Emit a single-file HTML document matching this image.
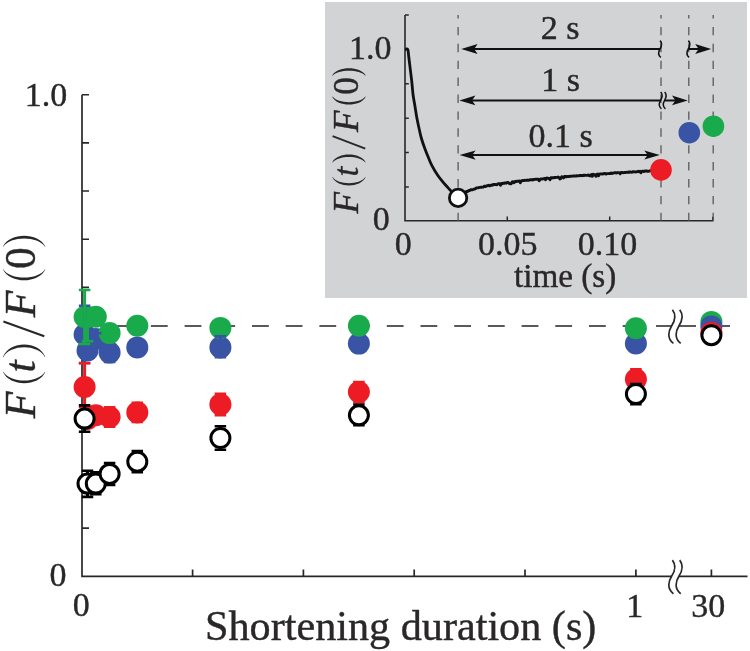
<!DOCTYPE html>
<html><head><meta charset="utf-8"><style>
html,body{margin:0;padding:0;background:#fff;}
svg{display:block;will-change:transform;}
</style></head><body>
<svg width="750" height="651" viewBox="0 0 750 651">
<rect width="750" height="651" fill="#fff"/>
<path d="M82,94.7V576.3H671.6M679,576.3H747.5" fill="none" stroke="#2A2728" stroke-width="1.7"/>
<path d="M82,94.7H89M82,142.86H89M82,191.02H89M82,239.18H89M82,287.34H89M82,335.5H89M82,383.66H89M82,431.82H89M82,479.98H89M82,528.14H89" stroke="#2A2728" stroke-width="1.6"/>
<path d="M192.6,576.3V569.4M303.4,576.3V569.4M414.2,576.3V569.4M525,576.3V569.4M635.9,576.3V569.4M711.4,576.3V569.4" stroke="#2A2728" stroke-width="1.7"/>
<path d="M672.4,560.1C676.8,565.7 674.8,571.3 671.6,576.3S666.8,588.7 673.4,593.7M679.7,560.1C684.1,565.7 682.1,571.3 678.9,576.3S674.1,588.7 680.7,593.7" fill="none" stroke="#2A2728" stroke-width="1.7"/>
<path d="M83.5,326H646" stroke="#58595B" stroke-width="2.1" stroke-dasharray="16.8 16.9"/>
<path d="M656,326H671.6M679,326H696M722,326H730" stroke="#58595B" stroke-width="2.1"/>
<path d="M672.4,309.8C676.8,315.4 674.8,321 671.6,326S666.8,338.4 673.4,343.4M679.7,309.8C684.1,315.4 682.1,321 678.9,326S674.1,338.4 680.7,343.4" fill="none" stroke="#2A2728" stroke-width="1.7"/>
<circle cx="84.6" cy="334.5" r="11" fill="#3953A5"/>
<circle cx="87.5" cy="350.5" r="11" fill="#3953A5"/>
<circle cx="95.8" cy="339" r="11" fill="#3953A5"/>
<circle cx="109.6" cy="352.6" r="11" fill="#3953A5"/>
<circle cx="137.3" cy="347.4" r="11" fill="#3953A5"/>
<circle cx="220.4" cy="347.4" r="11" fill="#3953A5"/>
<circle cx="358.9" cy="343.6" r="11" fill="#3953A5"/>
<circle cx="635.9" cy="343.5" r="11" fill="#3953A5"/>
<circle cx="84.6" cy="317" r="11" fill="#19AA4B"/>
<circle cx="87.5" cy="317" r="11" fill="#19AA4B"/>
<circle cx="95.8" cy="316.8" r="11" fill="#19AA4B"/>
<circle cx="109.6" cy="333.1" r="11" fill="#19AA4B"/>
<circle cx="137.3" cy="325.8" r="11" fill="#19AA4B"/>
<circle cx="220.4" cy="327.9" r="11" fill="#19AA4B"/>
<circle cx="358.9" cy="325.7" r="11" fill="#19AA4B"/>
<circle cx="635.9" cy="328.3" r="11" fill="#19AA4B"/>
<path d="M84.6,305.8V363" stroke="#3953A5" stroke-width="3"/><path d="M78.85,305.8H90.35M78.85,363H90.35" stroke="#3953A5" stroke-width="2.6"/>
<path d="M95.8,333.2V345" stroke="#3953A5" stroke-width="3"/><path d="M90.05,333.2H101.55M90.05,345H101.55" stroke="#3953A5" stroke-width="2.6"/>
<path d="M109.6,352V362" stroke="#3953A5" stroke-width="3"/><path d="M103.85,352H115.35M103.85,362H115.35" stroke="#3953A5" stroke-width="2.6"/>
<path d="M220.4,336.4V357.2" stroke="#3953A5" stroke-width="3"/><path d="M214.65,336.4H226.15M214.65,357.2H226.15" stroke="#3953A5" stroke-width="2.6"/>
<path d="M84.6,290V344" stroke="#19AA4B" stroke-width="3"/><path d="M78.85,290H90.35M78.85,344H90.35" stroke="#19AA4B" stroke-width="2.6"/>
<path d="M87.5,322V341.3" stroke="#19AA4B" stroke-width="3"/><path d="M81.75,322H93.25M81.75,341.3H93.25" stroke="#19AA4B" stroke-width="2.6"/>
<path d="M84.6,363.2V407" stroke="#ED1C24" stroke-width="3"/><path d="M78.85,363.2H90.35M78.85,407H90.35" stroke="#ED1C24" stroke-width="2.6"/>
<path d="M109.6,407.4V426.6" stroke="#ED1C24" stroke-width="3"/><path d="M103.85,407.4H115.35M103.85,426.6H115.35" stroke="#ED1C24" stroke-width="2.6"/>
<path d="M137.3,402.7V422" stroke="#ED1C24" stroke-width="3"/><path d="M131.55,402.7H143.05M131.55,422H143.05" stroke="#ED1C24" stroke-width="2.6"/>
<path d="M220.4,393.7V415.1" stroke="#ED1C24" stroke-width="3"/><path d="M214.65,393.7H226.15M214.65,415.1H226.15" stroke="#ED1C24" stroke-width="2.6"/>
<path d="M358.9,382.1V402" stroke="#ED1C24" stroke-width="3"/><path d="M353.15,382.1H364.65M353.15,402H364.65" stroke="#ED1C24" stroke-width="2.6"/>
<path d="M635.9,369.4V389" stroke="#ED1C24" stroke-width="3"/><path d="M630.15,369.4H641.65M630.15,389H641.65" stroke="#ED1C24" stroke-width="2.6"/>
<circle cx="84.6" cy="387" r="11" fill="#ED1C24"/>
<circle cx="87.5" cy="419" r="11" fill="#ED1C24"/>
<circle cx="95.8" cy="415.2" r="11" fill="#ED1C24"/>
<circle cx="109.6" cy="417" r="11" fill="#ED1C24"/>
<circle cx="137.3" cy="412.4" r="11" fill="#ED1C24"/>
<circle cx="220.4" cy="404.4" r="11" fill="#ED1C24"/>
<circle cx="358.9" cy="392" r="11" fill="#ED1C24"/>
<circle cx="635.9" cy="379.2" r="11" fill="#ED1C24"/>
<path d="M84.6,405.4V431.7" stroke="#000" stroke-width="3"/><path d="M78.85,405.4H90.35M78.85,431.7H90.35" stroke="#000" stroke-width="2.6"/>
<path d="M87.5,470.7V496.9" stroke="#000" stroke-width="3"/><path d="M81.75,470.7H93.25M81.75,496.9H93.25" stroke="#000" stroke-width="2.6"/>
<path d="M95.8,472.4V494.3" stroke="#000" stroke-width="3"/><path d="M90.05,472.4H101.55M90.05,494.3H101.55" stroke="#000" stroke-width="2.6"/>
<path d="M109.6,463V485" stroke="#000" stroke-width="3"/><path d="M103.85,463H115.35M103.85,485H115.35" stroke="#000" stroke-width="2.6"/>
<path d="M137.3,451V472.3" stroke="#000" stroke-width="3"/><path d="M131.55,451H143.05M131.55,472.3H143.05" stroke="#000" stroke-width="2.6"/>
<path d="M220.4,426.2V449.8" stroke="#000" stroke-width="3"/><path d="M214.65,426.2H226.15M214.65,449.8H226.15" stroke="#000" stroke-width="2.6"/>
<path d="M358.9,404.5V425.3" stroke="#000" stroke-width="3"/><path d="M353.15,404.5H364.65M353.15,425.3H364.65" stroke="#000" stroke-width="2.6"/>
<path d="M635.9,384V404.3" stroke="#000" stroke-width="3"/><path d="M630.15,384H641.65M630.15,404.3H641.65" stroke="#000" stroke-width="2.6"/>
<circle cx="84.6" cy="418.6" r="9.5" fill="#fff" stroke="#000" stroke-width="3"/>
<circle cx="87.5" cy="483.6" r="9.5" fill="#fff" stroke="#000" stroke-width="3"/>
<circle cx="95.8" cy="483.6" r="9.5" fill="#fff" stroke="#000" stroke-width="3"/>
<circle cx="109.6" cy="473.9" r="9.5" fill="#fff" stroke="#000" stroke-width="3"/>
<circle cx="137.3" cy="461.7" r="9.5" fill="#fff" stroke="#000" stroke-width="3"/>
<circle cx="220.4" cy="438" r="9.5" fill="#fff" stroke="#000" stroke-width="3"/>
<circle cx="358.9" cy="415.3" r="9.5" fill="#fff" stroke="#000" stroke-width="3"/>
<circle cx="635.9" cy="394" r="9.5" fill="#fff" stroke="#000" stroke-width="3"/>
<circle cx="711.4" cy="321.9" r="11" fill="#19AA4B"/>
<circle cx="711.4" cy="326.4" r="11" fill="#3953A5"/>
<circle cx="711.4" cy="332.9" r="11" fill="#ED1C24"/>
<circle cx="711.4" cy="335.2" r="9.5" fill="#fff" stroke="#000" stroke-width="3"/>
<text x="24.8" y="106.3" font-size="34" font-family="Liberation Serif" fill="#2A2728" stroke="#2A2728" stroke-width="0.4">1.0</text>
<text x="49.4" y="586" font-size="34" font-family="Liberation Serif" fill="#2A2728" stroke="#2A2728" stroke-width="0.4">0</text>
<text x="72.7" y="616.3" font-size="34" font-family="Liberation Serif" fill="#2A2728" stroke="#2A2728" stroke-width="0.4">0</text>
<text x="626.2" y="616.6" font-size="34" font-family="Liberation Serif" fill="#2A2728" stroke="#2A2728" stroke-width="0.4">1</text>
<text x="691.2" y="616.6" font-size="34" font-family="Liberation Serif" fill="#2A2728" stroke="#2A2728" stroke-width="0.4">30</text>
<text x="205" y="640.3" font-size="42.2" font-family="Liberation Serif" fill="#2A2728" stroke="#2A2728" stroke-width="0.4">Shortening duration (s)</text>
<text transform="translate(35.2,418.3) rotate(-90)" font-size="43.5" font-family="Liberation Serif" fill="#2A2728" stroke="#2A2728" stroke-width="0.4"><tspan font-style="italic" x="0">F</tspan><tspan x="45.9" font-style="italic">t</tspan><tspan x="101" font-style="italic">F</tspan><tspan x="149.3">0</tspan></text>
<path d="M44.3,336.2L3.4,321.6" stroke="#2A2728" stroke-width="2.1"/>
<path d="M3,372C9.77,386.93 38.53,386.93 45.3,372L45,371.65C38.23,383.38 10.07,383.38 3.3,371.65Z" fill="#2A2728"/>
<path d="M3,356.9C9.77,340.5 38.53,340.5 45.3,356.9L45,357.25C38.23,344.05 10.07,344.05 3.3,357.25Z" fill="#2A2728"/>
<path d="M3,269.5C9.77,283.9 38.53,283.9 45.3,269.5L45,269.15C38.23,280.35 10.07,280.35 3.3,269.15Z" fill="#2A2728"/>
<path d="M3,246.5C9.77,232.23 38.53,232.23 45.3,246.5L45,246.85C38.23,235.78 10.07,235.78 3.3,246.85Z" fill="#2A2728"/>
<rect x="325" y="2" width="422" height="296" fill="#D1D3D4"/>
<path d="M405,15V220.8H712.8V216.8" fill="none" stroke="#2A2728" stroke-width="1.6"/>
<path d="M405,15H408.8M405,49.38H408.8M405,83.76H408.8M405,118.14H408.8M405,152.52H408.8M405,186.9H408.8" stroke="#2A2728" stroke-width="1.5"/>
<path d="M507.3,220.8V216.6M609.7,220.8V216.6" stroke="#2A2728" stroke-width="1.5"/>
<path d="M458.1,15V220.8M661,15V220.8M688.8,15V220.8M713.2,15V220.8" stroke="#58595B" stroke-width="1.3" stroke-dasharray="8.4 8.5" stroke-dashoffset="5"/>
<path d="M405.1,49.2C405.55,49.27 407.2,48.42 407.8,49.6C408.4,50.78 408.3,53.13 408.7,56.3C409.1,59.47 409.7,64.5 410.2,68.6C410.7,72.7 411.22,76.5 411.7,80.9C412.18,85.3 412.57,90.85 413.1,95C413.63,99.15 414.32,102.22 414.9,105.8C415.48,109.38 415.95,112.92 416.6,116.5C417.25,120.08 418.02,123.72 418.8,127.3C419.58,130.88 420.28,134.42 421.3,138C422.32,141.58 423.58,145.22 424.9,148.8C426.22,152.38 427.98,156.62 429.2,159.5C430.42,162.38 430.78,163.47 432.2,166.1C433.62,168.73 435.97,172.72 437.7,175.3C439.43,177.88 440.93,179.58 442.6,181.6C444.27,183.62 446.05,185.58 447.7,187.4C449.35,189.22 451.12,190.98 452.5,192.5C453.88,194.02 455.42,195.83 456,196.5" fill="none" stroke="#111" stroke-width="2.8" stroke-linejoin="round"/>
<path d="M460,195.32 L460.9,194.87 L461.8,195.33 L462.7,194.12 L463.6,193.16 L464.5,192.79 L465.4,192.26 L466.3,191.49 L467.2,191.58 L468.1,191.18 L469,190.39 L469.9,190.45 L470.8,189.74 L471.7,189.73 L472.6,189.7 L473.5,189.42 L474.4,189.02 L475.3,188.83 L476.2,188.03 L477.1,187.91 L478,187.85 L478.9,187.54 L479.8,187.38 L480.7,187.31 L481.6,187.32 L482.5,187.13 L483.4,186.96 L484.3,186.16 L485.2,186.57 L486.1,186.14 L487,185.74 L487.9,185.84 L488.8,185.33 L489.7,185.82 L490.6,185.54 L491.5,184.93 L492.4,185.21 L493.3,184.55 L494.2,184.4 L495.1,184.44 L496,184.75 L496.9,184.61 L497.8,183.81 L498.7,183.62 L499.6,183.75 L500.5,185.28 L501.4,183.41 L502.3,183.68 L503.2,183.24 L504.1,183.24 L505,183.04 L505.9,183.18 L506.8,182.68 L507.7,182.41 L508.6,182.8 L509.5,183.66 L510.4,183.79 L511.3,183.7 L512.2,181.9 L513.1,181.69 L514,182.71 L514.9,181.7 L515.8,181.31 L516.7,181.45 L517.6,181.2 L518.5,181.11 L519.4,180.96 L520.3,182.68 L521.2,181.08 L522.1,180.63 L523,180.54 L523.9,180.59 L524.8,180.26 L525.7,180.33 L526.6,180.31 L527.5,180.03 L528.4,180.27 L529.3,180.03 L530.2,179.71 L531.1,179.66 L532,180.02 L532.9,179.54 L533.8,179.7 L534.7,179.4 L535.6,179.26 L536.5,179.16 L537.4,179.18 L538.3,179.09 L539.2,180.76 L540.1,179.25 L541,178.85 L541.9,179.11 L542.8,178.9 L543.7,178.76 L544.6,178.41 L545.5,179.79 L546.4,178.24 L547.3,177.98 L548.2,178.35 L549.1,178.41 L550,179.79 L550.9,177.73 L551.8,177.99 L552.7,177.73 L553.6,177.78 L554.5,177.45 L555.4,177.52 L556.3,177.35 L557.2,177.39 L558.1,177.05 L559,177.49 L559.9,178.89 L560.8,178.42 L561.7,176.81 L562.6,176.85 L563.5,177.9 L564.4,176.51 L565.3,176.4 L566.2,176.88 L567.1,176.57 L568,176.37 L568.9,176.53 L569.8,176.27 L570.7,176.18 L571.6,176.27 L572.5,176.08 L573.4,175.87 L574.3,176.1 L575.2,175.87 L576.1,175.98 L577,175.73 L577.9,175.9 L578.8,175.82 L579.7,175.44 L580.6,175.69 L581.5,175.43 L582.4,175.68 L583.3,175.26 L584.2,175.49 L585.1,175.19 L586,175.37 L586.9,175.35 L587.8,175.13 L588.7,174.99 L589.6,175.91 L590.5,175.91 L591.4,174.46 L592.3,176.26 L593.2,174.34 L594.1,174.66 L595,174.79 L595.9,176.34 L596.8,174.35 L597.7,174 L598.6,175.7 L599.5,174.18 L600.4,173.89 L601.3,173.83 L602.2,174.11 L603.1,173.77 L604,173.7 L604.9,173.44 L605.8,174 L606.7,173.77 L607.6,173.66 L608.5,173.58 L609.4,173.38 L610.3,173.61 L611.2,172.98 L612.1,173.49 L613,173.09 L613.9,172.84 L614.8,172.78 L615.7,172.79 L616.6,172.99 L617.5,172.65 L618.4,172.66 L619.3,172.72 L620.2,173.79 L621.1,172.48 L622,172.41 L622.9,172.65 L623.8,172.75 L624.7,172.42 L625.6,172.53 L626.5,172.29 L627.4,172.35 L628.3,172.07 L629.2,172.41 L630.1,171.85 L631,172.14 L631.9,172.26 L632.8,171.7 L633.7,171.66 L634.6,171.92 L635.5,172.01 L636.4,171.93 L637.3,171.57 L638.2,171.28 L639.1,171.75 L640,171.36 L640.9,172.74 L641.8,171.32 L642.7,171.1 L643.6,171.57 L644.5,171.23 L645.4,170.99 L646.3,170.83 L647.2,171.33 L648.1,171.3 L649,171.11 L649.9,170.7 L650.8,170.88 L651.7,170.54 L652.6,170.95 L653.5,170.59 L654.4,170.48 L655.3,170.57 L656.2,170.39 L657.1,170.37 L658,169.98" fill="none" stroke="#111" stroke-width="2.9" stroke-linejoin="round"/>
<circle cx="458.1" cy="197.9" r="8.7" fill="#fff" stroke="#111" stroke-width="2.8"/>
<circle cx="661" cy="169.9" r="10.8" fill="#ED1C24"/>
<circle cx="689.3" cy="132.7" r="10.8" fill="#3953A5"/>
<circle cx="713.4" cy="126.2" r="10.8" fill="#19AA4B"/>
<path d="M470,49H660M688.3,49H700" stroke="#111" stroke-width="2.0"/>
<path d="M461.2,49L477.6,44L474.2,49L477.6,54Z" fill="#111"/>
<path d="M711.2,49L695.2,44.1L698.6,49L695.2,53.9Z" fill="#111"/>
<path d="M660.1,40.6C662.9,43.8 661.4,46.6 660,49S657.6,54.8 660.8,57.4M688.4,40.6C691.2,43.8 689.7,46.6 688.3,49S685.9,54.8 689.1,57.4" fill="none" stroke="#111" stroke-width="1.6"/>
<path d="M468,100.4H660.6M664.7,100.4H678" stroke="#111" stroke-width="2.0"/>
<path d="M459.4,100.4L475.4,95.5L472,100.4L475.4,105.3Z" fill="#111"/>
<path d="M687.7,100.4L672,95.6L675.4,100.4L672,105.2Z" fill="#111"/>
<path d="M660.7,92C663.5,95.2 662,98 660.6,100.4S658.2,106.2 661.4,108.8M664.7,92C667.5,95.2 666,98 664.6,100.4S662.2,106.2 665.4,108.8" fill="none" stroke="#111" stroke-width="1.5"/>
<path d="M468,155.1H652" stroke="#111" stroke-width="2.0"/>
<path d="M459.6,155.1L475.6,150.5L472.2,155.1L475.6,159.7Z" fill="#111"/>
<path d="M659.8,155.1L644.3,150.6L647.7,155.1L644.3,159.6Z" fill="#111"/>
<text x="349" y="58.8" font-size="34" font-family="Liberation Serif" fill="#2A2728" stroke="#2A2728" stroke-width="0.4">1.0</text>
<text x="372.7" y="230.3" font-size="34" font-family="Liberation Serif" fill="#2A2728" stroke="#2A2728" stroke-width="0.4">0</text>
<text x="394.7" y="255.4" font-size="34" font-family="Liberation Serif" fill="#2A2728" stroke="#2A2728" stroke-width="0.4">0</text>
<text x="478" y="255.4" font-size="34" font-family="Liberation Serif" fill="#2A2728" stroke="#2A2728" stroke-width="0.4">0.05</text>
<text x="577.8" y="255.4" font-size="34" font-family="Liberation Serif" fill="#2A2728" stroke="#2A2728" stroke-width="0.4">0.10</text>
<text x="514" y="287" font-size="33.2" font-family="Liberation Serif" fill="#2A2728" stroke="#2A2728" stroke-width="0.4">time (s)</text>
<text x="540.8" y="39.4" font-size="34" font-family="Liberation Serif" fill="#2A2728" stroke="#2A2728" stroke-width="0.4">2 s</text>
<text x="541.3" y="90.6" font-size="34" font-family="Liberation Serif" fill="#2A2728" stroke="#2A2728" stroke-width="0.4">1 s</text>
<text x="528.4" y="146.6" font-size="34" font-family="Liberation Serif" fill="#2A2728" stroke="#2A2728" stroke-width="0.4">0.1 s</text>
<text transform="translate(358.2,213.5) rotate(-90)" font-size="35.2" font-family="Liberation Serif" fill="#2A2728" stroke="#2A2728" stroke-width="0.4"><tspan font-style="italic" x="0">F</tspan><tspan x="37.1" font-style="italic">t</tspan><tspan x="81.6" font-style="italic">F</tspan><tspan x="118.7">0</tspan></text>
<path d="M365.3,148.6L332.6,136.1" stroke="#2A2728" stroke-width="1.8"/>
<path d="M332.3,177.3C337.63,188.23 360.27,188.23 365.6,177.3L365.3,176.95C359.97,185.22 337.93,185.22 332.6,176.95Z" fill="#2A2728"/>
<path d="M332.3,162.2C337.63,152.07 360.27,152.07 365.6,162.2L365.3,162.55C359.97,155.08 337.93,155.08 332.6,162.55Z" fill="#2A2728"/>
<path d="M332.3,96.9C337.63,107.03 360.27,107.03 365.6,96.9L365.3,96.55C359.97,104.02 337.93,104.02 332.6,96.55Z" fill="#2A2728"/>
<path d="M332.3,75.3C337.63,65.97 360.27,65.97 365.6,75.3L365.3,75.65C359.97,68.98 337.93,68.98 332.6,75.65Z" fill="#2A2728"/>
</svg>
</body></html>
